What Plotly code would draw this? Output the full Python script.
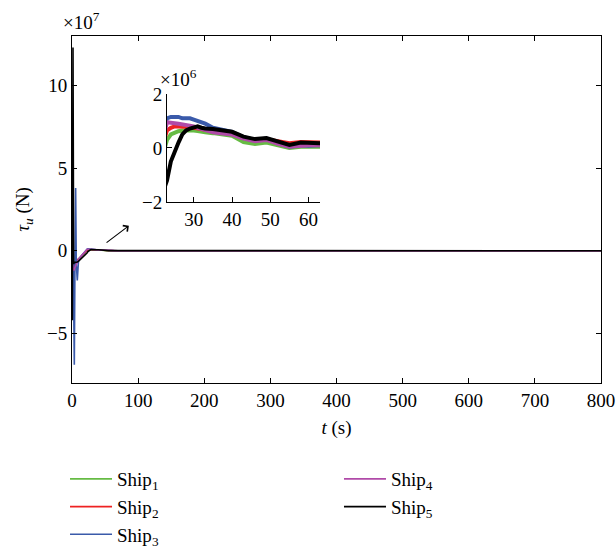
import plotly.graph_objects as go

# time samples (s)
t = [0, 0.5, 1.5, 2.5, 3.5, 4.5, 5.5, 6.5, 8, 10, 12, 15, 18, 20, 22,
     23, 24, 25, 26, 27, 28, 29, 30, 31, 32, 33, 35, 37, 40, 43, 46, 49,
     52, 55, 58, 60, 62, 63, 70, 100, 200, 400, 800]

# tau_u values in units of 1e6 N
ship1 = [0, -5, -7, -8, -7.5, -7, -6.5, -6, -5.5, -5, -4.3, -3, -1.8, -1, -0.2,
         0.3, 0.5, 0.58, 0.62, 0.65, 0.66, 0.66, 0.65, 0.63, 0.6, 0.58, 0.55, 0.5, 0.45, 0.22, 0.15, 0.2,
         0.1, 0.0, 0.05, 0.05, 0.05, 0.05, 0.02, 0, 0, 0, 0]
ship2 = [0, -6, -8, -9, -8, -7, -6.5, -6, -5.5, -5, -4.2, -2.8, -1.5, -0.6, 0.2,
         0.65, 0.75, 0.8, 0.8, 0.8, 0.8, 0.78, 0.75, 0.72, 0.7, 0.68, 0.63, 0.6, 0.55, 0.38, 0.3, 0.32,
         0.25, 0.18, 0.22, 0.22, 0.2, 0.2, 0.05, 0, 0, 0, 0]
ship3 = [0, -5, 10, -20, -69, -5, 38, -8, -18, -5, -4, -2.5, -1.2, -0.3, 0.6,
         1.1, 1.15, 1.15, 1.15, 1.1, 1.1, 1.1, 1.05, 1.0, 0.95, 0.9, 0.75, 0.68, 0.6, 0.4, 0.3, 0.35,
         0.2, 0.05, 0.1, 0.08, 0.1, 0.1, 0.03, 0, 0, 0, 0]
ship4 = [0, -8, -10, -12, -11, -10, -9, -8, -6, -5, -4, -2.5, -1.2, -0.4, 0.4,
         0.95, 0.95, 0.92, 0.9, 0.88, 0.85, 0.82, 0.8, 0.75, 0.7, 0.65, 0.58, 0.55, 0.5, 0.35, 0.25, 0.3,
         0.15, 0.05, 0.1, 0.1, 0.1, 0.1, 0.03, 0, 0, 0, 0]
ship5 = [0, -42, 123, -8, -7, -7, -7, -7, -6.8, -6.2, -5.5, -4.2, -3, -2.2, -1.6,
         -1.2, -0.5, -0.1, 0.2, 0.5, 0.65, 0.72, 0.75, 0.8, 0.75, 0.72, 0.7, 0.65, 0.6, 0.42, 0.33, 0.37,
         0.24, 0.11, 0.2, 0.2, 0.18, 0.18, 0.05, 0, 0, 0, 0]

names = ["Ship<sub>1</sub>", "Ship<sub>2</sub>", "Ship<sub>3</sub>", "Ship<sub>4</sub>", "Ship<sub>5</sub>"]
colors = ["#66bb44", "#ee2222", "#3a5aaa", "#b04aa8", "#000000"]
series = [ship1, ship2, ship3, ship4, ship5]

x_ticks = [0, 100, 200, 300, 400, 500, 600, 700, 800]
y_ticks = [-5, 0, 5, 10]
inset_x_ticks = [30, 40, 50, 60]
inset_y_ticks = [-2, 0, 2]

FONT = "Liberation Serif"
FS = 19
fig = go.Figure()

for i, (nm, col, s) in enumerate(zip(names, colors, series)):
    fig.add_trace(go.Scatter(
        x=t, y=[v / 10 for v in s], mode="lines", name=nm,
        line=dict(color=col, width=1.6),
        legend="legend" if i < 3 else "legend2",
        xaxis="x", yaxis="y"))

for nm, col, s in zip(names, colors, series):
    fig.add_trace(go.Scatter(
        x=t, y=s, mode="lines", name=nm, showlegend=False,
        line=dict(color=col, width=4),
        xaxis="x2", yaxis="y2"))

axis_common = dict(showline=True, linecolor="black", linewidth=1, ticks="inside",
                   ticklen=5, tickcolor="black", showgrid=False, zeroline=False,
                   automargin=False,
                   tickfont=dict(family=FONT, size=FS, color="black"))

fig.update_layout(
    width=616, height=548,
    margin=dict(l=72, r=15, t=36, b=165, autoexpand=False),
    paper_bgcolor="white", plot_bgcolor="white",
    font=dict(family=FONT, size=FS, color="black"),
    xaxis=dict(range=[0, 800], tickvals=x_ticks, mirror="ticks",
               title=dict(text="<i>t</i> (s)", standoff=10, font=dict(size=FS)),
               domain=[0, 1], **axis_common),
    yaxis=dict(range=[-8, 13], tickvals=y_ticks, ticktext=["−5", "0", "5", "10"], mirror="ticks",
               title=dict(text="<i>τ</i><sub><i>u</i></sub> (N)", standoff=12, font=dict(size=FS)),
               domain=[0, 1], **axis_common),
    xaxis2=dict(range=[23, 63], tickvals=inset_x_ticks, anchor="y2",
                domain=[0.1796, 0.4688], **axis_common),
    yaxis2=dict(range=[-2, 2], tickvals=inset_y_ticks, ticktext=["−2", "0", "2"], anchor="x2",
                domain=[0.5216, 0.8329], **axis_common),
    legend=dict(x=-0.0132, y=-0.222, xanchor="left", yanchor="top", orientation="v",
                itemwidth=42,
                bgcolor="rgba(0,0,0,0)", font=dict(family=FONT, size=FS), tracegroupgap=0),
    legend2=dict(x=0.5047, y=-0.222, xanchor="left", yanchor="top", orientation="v",
                 itemwidth=42,
                 bgcolor="rgba(0,0,0,0)", font=dict(family=FONT, size=FS), tracegroupgap=0),
    showlegend=True,
)

fig.add_annotation(text="×10<sup>7</sup>", xref="paper", yref="paper", x=-0.02, y=1.0,
                   xanchor="left", yanchor="bottom", yshift=1, showarrow=False, font=dict(size=FS))
fig.add_annotation(text="×10<sup>6</sup>", xref="paper", yref="paper", x=0.163, y=0.84,
                   xanchor="left", yanchor="bottom", showarrow=False, font=dict(size=FS))
fig.add_annotation(x=86, y=1.52, ax=50, ay=0.43, xref="x", yref="y", axref="x", ayref="y",
                   text="", showarrow=True, arrowhead=4, arrowsize=1.3, arrowwidth=1.1,
                   arrowcolor="black")

fig.write_html("out.html", config={"displayModeBar": False},
               post_script="document.body.style.margin='0';")
